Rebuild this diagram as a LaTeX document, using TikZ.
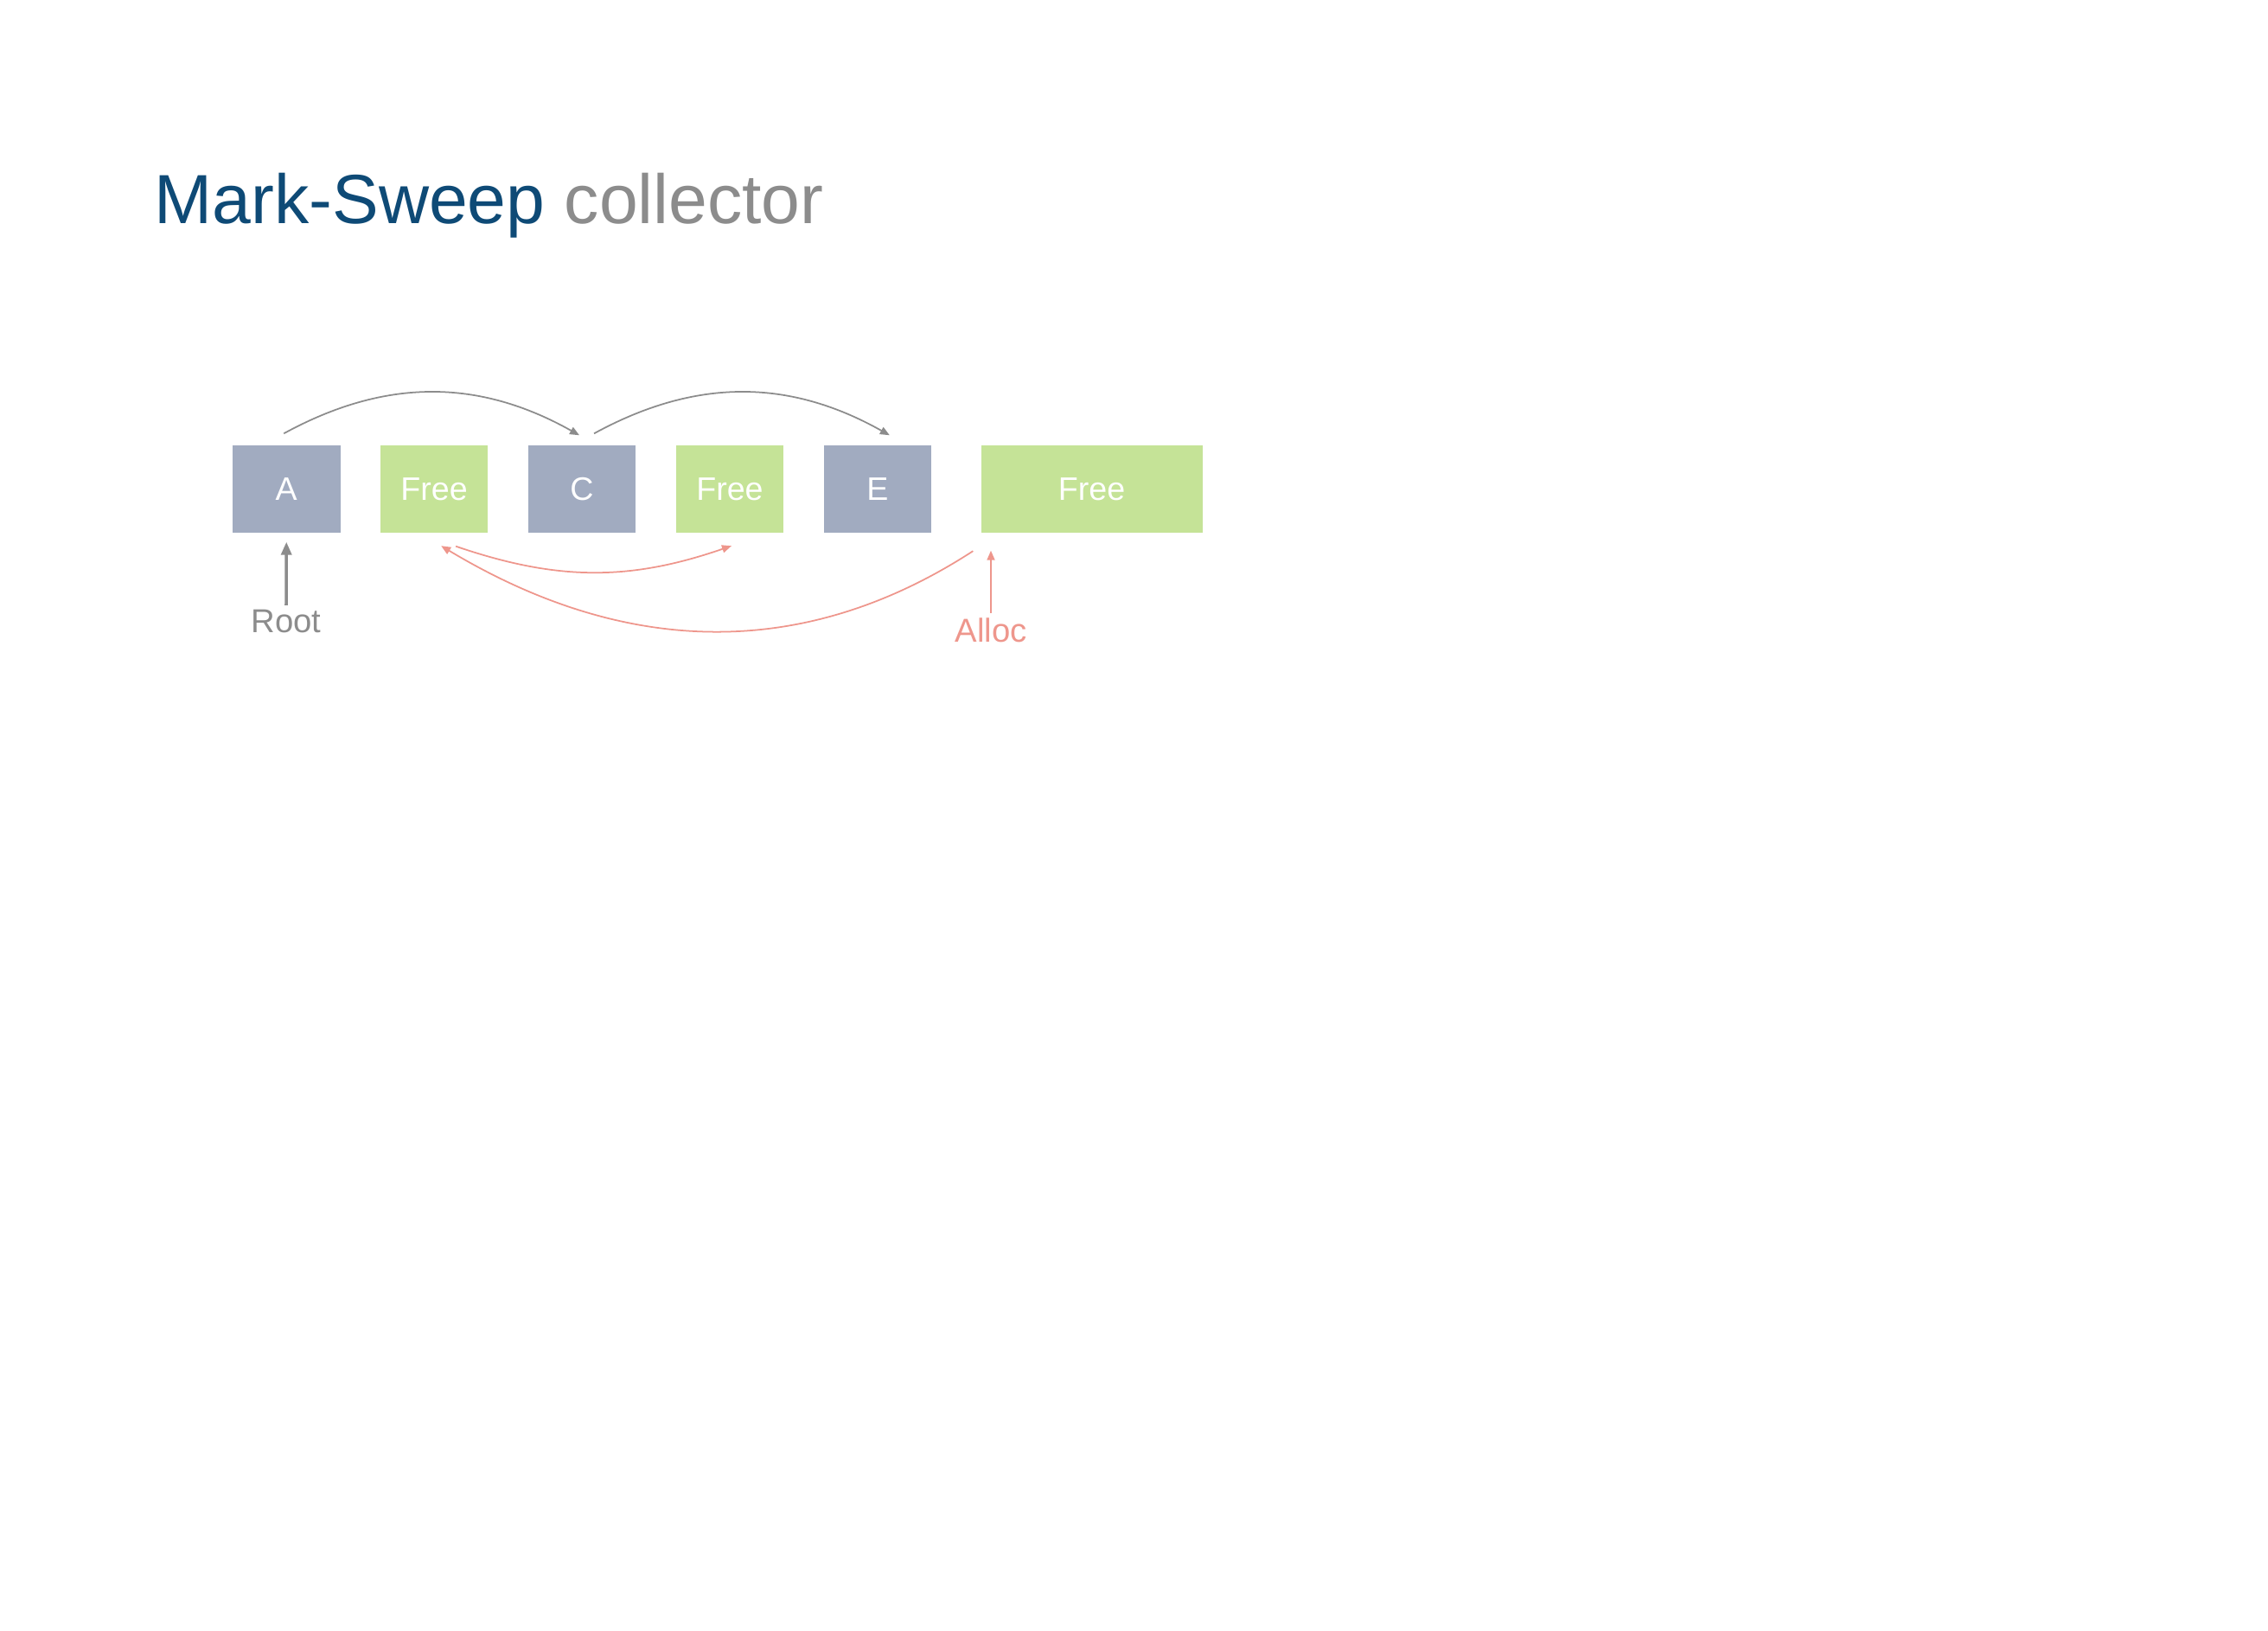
\documentclass[tikz,border=0pt]{standalone}
\usepackage{fontspec}
\setmainfont{Liberation Sans}
\usetikzlibrary{positioning,arrows.meta,calc}

\definecolor{live}{HTML}{A1ABC0}
\definecolor{free}{HTML}{C5E397}
\definecolor{titleblue}{HTML}{0E4A76}
\definecolor{linegray}{HTML}{8C8C8C}
\definecolor{allocred}{HTML}{EE968C}

\tikzset{
  cell/.style={rectangle, minimum width=1.245cm, minimum height=1.01cm,
    inner sep=0pt, text=white, font=\fontsize{10.7}{12}\selectfont},
  livecell/.style={cell, fill=live},
  freecell/.style={cell, fill=free},
  ptr/.style={-{Triangle[length=0.11cm,width=0.09cm]}, linegray, line width=0.5pt},
  link/.style={-{Triangle[length=0.11cm,width=0.09cm]}, allocred, line width=0.5pt},
  tag/.style={inner sep=0.05cm, font=\fontsize{10.9}{12}\selectfont},
}

\begin{document}
\begin{tikzpicture}
  \useasboundingbox (0,0) rectangle (26.23,-18.86);
  \node[anchor=base west, inner sep=0pt, font=\fontsize{22.9}{26}\selectfont] (title)
    at (1.78,-2.59) {\textcolor{titleblue}{Mark-Sweep} \textcolor{linegray}{collector}};

  % heap cells
  \node[livecell] (A) at (3.3125,-5.655) {A};
  \node[freecell, right=0.45cm of A] (F1) {Free};
  \node[livecell, right=0.45cm of F1] (C) {C};
  \node[freecell, right=0.45cm of C] (F2) {Free};
  \node[livecell, right=0.45cm of F2] (E) {E};
  \node[freecell, right=0.56cm of E, minimum width=2.56cm] (F3) {Free};

  % marked references
  \draw[ptr] ([shift={(-0.03,0.13)}]A.north) to[bend left=29] ([shift={(-0.03,0.11)}]C.north);
  \draw[ptr] ([shift={(0.14,0.13)}]C.north) to[bend left=29] ([shift={(0.14,0.11)}]E.north);

  % root
  \node[tag, text=linegray] (root) at (3.31,-7.19) {Root};
  \draw[-{Triangle[length=0.15cm,width=0.12cm]}, linegray, line width=1pt]
    (root.north) -- ([yshift=-0.1cm]A.south);

  % free list
  \draw[link] ([shift={(0.25,-0.15)}]F1.south) to[bend right=19] ([shift={(0.02,-0.145)}]F2.south);
  \draw[link] ([shift={(-0.085,-0.205)}]F3.south west) to[out=213, in=-31] ([shift={(0.08,-0.145)}]F1.south);

  % allocation pointer
  \node[tag, text=allocred] (alloc) at (11.46,-7.29) {Alloc};
  \draw[link] (alloc.north) -- ($(alloc.north |- F3.south)+(0,-0.2)$);
\end{tikzpicture}
\end{document}
